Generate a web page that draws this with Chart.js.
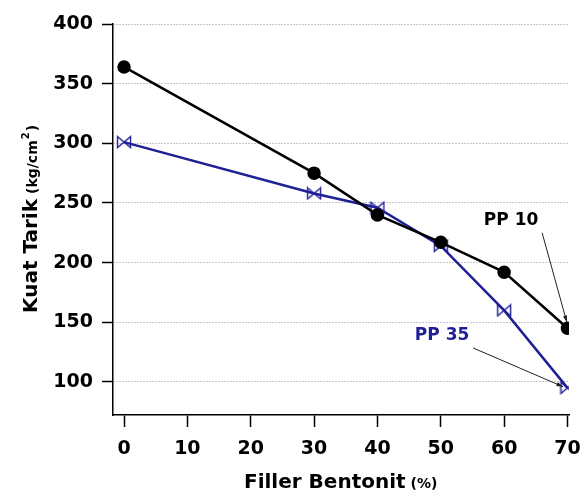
<!DOCTYPE html>
<html>
<head>
<meta charset="utf-8">
<script src="https://cdn.jsdelivr.net/npm/chart.js@4/dist/chart.umd.min.js"></script>
<style>
  html, body { margin: 0; padding: 0; background: #fff; }
  #wrap { width: 588px; height: 491px; }
</style>
</head>
<body>
<div id="wrap"><canvas id="chart"></canvas></div>
<script>
// filler content (%) and tensile strength (kg/cm2) per mix
const fillerPct = [0, 30, 40, 50, 60, 70]
const pp10 = [364, 275, 240, 217, 192, 145]
const pp35 = [301, 258, 246, 214, 160, 95]
const xTicks = [0, 10, 20, 30, 40, 50, 60, 70]
const yTicks = [100, 150, 200, 250, 300, 350, 400]

const BLUE = '#1f1f96'
const FONT = 'DejaVu Sans'

// callout labels, placed in data units
const callouts = [
  { text: 'PP 10', color: '#000', at: [61.1, 235], from: [66.0, 225], to: [69.9, 150] },
  { text: 'PP 35', color: BLUE, at: [50.2, 138.5], from: [55.1, 128.5], to: [69.3, 96] }
]

// open bow-tie marker for the PP 35 series
const bowtie = document.createElement('canvas')
bowtie.width = 16
bowtie.height = 14
const bctx = bowtie.getContext('2d')
bctx.strokeStyle = BLUE
bctx.lineWidth = 1.4
bctx.beginPath()
bctx.moveTo(1.5, 1.5)
bctx.lineTo(1.5, 12.5)
bctx.lineTo(14.5, 1.5)
bctx.lineTo(14.5, 12.5)
bctx.closePath()
bctx.stroke()

const toPoints = (vals) => fillerPct.map((x, i) => ({ x, y: vals[i] }))

const textsPlugin = {
  id: 'texts',
  afterDraw(chart) {
    const { ctx } = chart
    const { x, y } = chart.scales

    ctx.save()
    ctx.fillStyle = '#000'
    ctx.textBaseline = 'alphabetic'
    ctx.textAlign = 'left'

    // y axis title, mixed sizes
    ctx.save()
    ctx.translate(37, 313)
    ctx.rotate(-Math.PI / 2)
    let cx = 0
    ctx.font = `bold 20px "${FONT}"`
    ctx.fillText('Kuat Tarik', cx, 0)
    cx += ctx.measureText('Kuat Tarik').width + 5
    ctx.font = `bold 14px "${FONT}"`
    ctx.fillText('(kg/cm', cx, 0)
    cx += ctx.measureText('(kg/cm').width + 1
    ctx.font = `bold 10px "${FONT}"`
    ctx.fillText('2', cx, -8)
    cx += ctx.measureText('2').width + 1
    ctx.font = `bold 14px "${FONT}"`
    ctx.fillText(')', cx, 0)
    ctx.restore()

    // x axis title
    let tx = 244
    ctx.font = `bold 20px "${FONT}"`
    ctx.fillText('Filler Bentonit', tx, 488)
    tx += ctx.measureText('Filler Bentonit').width + 5
    ctx.font = `bold 14px "${FONT}"`
    ctx.fillText('(%)', tx, 488)

    // callouts with thin leader arrows
    callouts.forEach(c => {
      ctx.font = `bold 17px "${FONT}"`
      ctx.fillStyle = c.color
      ctx.textAlign = 'center'
      ctx.textBaseline = 'middle'
      ctx.fillText(c.text, x.getPixelForValue(c.at[0]), y.getPixelForValue(c.at[1]))

      const x1 = x.getPixelForValue(c.from[0])
      const y1 = y.getPixelForValue(c.from[1])
      const x2 = x.getPixelForValue(c.to[0])
      const y2 = y.getPixelForValue(c.to[1])
      ctx.strokeStyle = '#222'
      ctx.fillStyle = '#222'
      ctx.lineWidth = 1
      ctx.beginPath()
      ctx.moveTo(x1, y1)
      ctx.lineTo(x2, y2)
      ctx.stroke()
      const a = Math.atan2(y2 - y1, x2 - x1)
      ctx.beginPath()
      ctx.moveTo(x2, y2)
      ctx.lineTo(x2 - 7 * Math.cos(a - 0.3), y2 - 7 * Math.sin(a - 0.3))
      ctx.lineTo(x2 - 7 * Math.cos(a + 0.3), y2 - 7 * Math.sin(a + 0.3))
      ctx.closePath()
      ctx.fill()
    })
    ctx.restore()
  }
}

new Chart(document.getElementById('chart'), {
  type: 'line',
  data: {
    datasets: [
      {
        label: 'PP 10',
        data: toPoints(pp10),
        borderColor: '#000',
        backgroundColor: '#000',
        borderWidth: 2.5,
        pointRadius: 5.5,
        pointStyle: 'circle',
        pointBackgroundColor: '#000',
        pointBorderColor: '#000'
      },
      {
        label: 'PP 35',
        data: toPoints(pp35),
        borderColor: BLUE,
        backgroundColor: BLUE,
        borderWidth: 2.5,
        pointStyle: bowtie
      }
    ]
  },
  options: {
    responsive: true,
    maintainAspectRatio: false,
    animation: false,
    events: [],
    layout: { padding: { top: 24, right: 19, left: 0, bottom: 0 } },
    plugins: {
      legend: { display: false },
      tooltip: { enabled: false }
    },
    scales: {
      x: {
        type: 'linear',
        min: -1.74,
        max: 70.24,
        afterBuildTicks: (scale) => { scale.ticks = xTicks.map(v => ({ value: v })) },
        afterFit: (scale) => {
          scale.height = 76
          scale.paddingLeft = 0
          scale.paddingRight = 0
        },
        grid: {
          drawOnChartArea: false,
          drawTicks: true,
          tickLength: 12,
          tickColor: '#000',
          tickWidth: 1.5
        },
        border: { color: '#000', width: 1.5 },
        ticks: {
          color: '#000',
          font: { family: FONT, size: 19, weight: 'bold' },
          padding: 11,
          maxRotation: 0
        }
      },
      y: {
        min: 72.3,
        max: 400,
        afterBuildTicks: (scale) => { scale.ticks = yTicks.map(v => ({ value: v })) },
        afterFit: (scale) => {
          scale.width = 113
          scale.paddingTop = 0
          scale.paddingBottom = 0
        },
        grid: {
          color: 'rgba(110,110,150,0.8)',
          lineWidth: 1,
          drawTicks: true,
          tickLength: 11,
          tickColor: '#000',
          tickWidth: 1.5,
          tickBorderDash: []
        },
        border: { color: '#000', width: 1.5, dash: [1, 2] },
        ticks: {
          color: '#000',
          font: { family: FONT, size: 19, weight: 'bold' },
          padding: 9
        }
      }
    }
  },
  plugins: [textsPlugin]
})
</script>
</body>
</html>
